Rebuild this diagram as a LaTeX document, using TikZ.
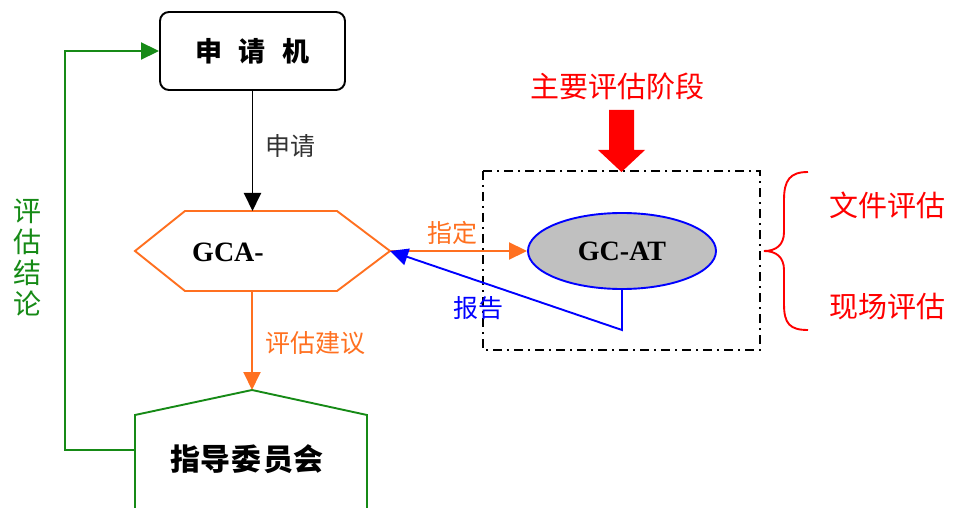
\documentclass[tikz,border=0pt]{standalone}
\usepackage{fontspec}
\setmainfont{Liberation Serif}
\newfontfamily\cjk{Noto Sans CJK SC}
\usetikzlibrary{arrows.meta,shapes.geometric}
\definecolor{myorange}{RGB}{255,112,32}
\definecolor{mygreen}{RGB}{22,138,22}
\definecolor{myred}{RGB}{255,0,0}
\definecolor{myblue}{RGB}{0,0,255}
\definecolor{mygray}{RGB}{192,192,192}
\begin{document}
\begin{tikzpicture}[x=1pt,y=-1pt,line width=1.9pt,
  tip/.style={-{Triangle[length=18pt,width=17pt]}},
  lbl/.style={inner sep=0pt,font=\cjk\fontsize{25}{28}\selectfont},
  big/.style={inner sep=0pt,font=\cjk\fontsize{29}{31}\selectfont},
  ttl/.style={inner sep=0pt,font=\bfseries\fontsize{28}{30}\selectfont}]
\useasboundingbox (0,0) rectangle (954,508);

% applicant box
\node[draw=black, rounded corners=9pt, minimum width=185pt, minimum height=78pt, inner sep=0pt,
      font=\cjk\bfseries\fontsize{27}{30}\selectfont] (app) at (252.5,51) {申\hspace{17pt}请\hspace{17pt}机};

% hexagon GCA-
\coordinate (hW) at (135,251);
\coordinate (hNW) at (185,211);
\coordinate (hNE) at (337,211);
\coordinate (hE) at (390,251);
\coordinate (hSE) at (337,291);
\coordinate (hSW) at (185,291);
\coordinate (hN) at (252.5,211);
\coordinate (hS) at (252,291);
\draw[myorange] (hW) -- (hNW) -- (hNE) -- (hE) -- (hSE) -- (hSW) -- cycle;
\node[ttl] (gcatxt) at (228,252) {GCA-};

% pentagon 指导委员会
\coordinate (pN) at (252,390);
\coordinate (pL) at (135,415);
\coordinate (pR) at (367,415);
\coordinate (pBL) at (135,508);
\coordinate (pBR) at (367,508);
\coordinate (pW) at (135,450);
\draw[mygreen] (pBL) -- (pL) -- (pN) -- (pR) -- (pBR);
\node[inner sep=0pt, font=\cjk\bfseries\fontsize{30}{32}\selectfont] (sc) at (247,459) {指\hspace{1pt}导\hspace{1pt}委\hspace{1pt}员\hspace{1pt}会};

% GC-AT ellipse
\node[ellipse, draw=myblue, fill=mygray, minimum width=188pt, minimum height=76pt, inner sep=0pt, ttl] (gcat) at (622,251) {GC-AT};

% dash-dot frame
\draw[black, line width=1.7pt, dash pattern=on 9pt off 5pt on 2pt off 5pt] (483,171) rectangle (760,350);

% red block arrow
\fill[myred] (609,110) -- (634,110) -- (634,150) -- (645,150) -- (621.5,172) -- (598,150) -- (609,150) -- cycle;
\node[big, text=myred] (main) at (617,86) {主要评估阶段};

% brace
\draw[myred] (808,172) .. controls (790,172) and (784,180) .. (784,200) -- (784,232)
  .. controls (784,245) and (776,251) .. (764,251)
  .. controls (776,251) and (784,257) .. (784,270) -- (784,304)
  .. controls (784,324) and (790,330) .. (808,330);
\node[big, text=myred] (doc) at (887,205) {文件评估};
\node[big, text=myred] (site) at (887,307) {现场评估};

% connectors
\draw[black, tip] (app.south) -- (hN);
\node[lbl, text=black!80] (lapply) at (290,146) {申请};

\draw[myorange, tip] (hS) -- (pN);
\node[lbl, text=myorange] (ladv) at (315,343) {评估建议};

\draw[myorange, tip] (hE) -- (gcat.west);
\node[lbl, text=myorange] (lassign) at (452,233) {指定};

\coordinate (bc) at (622,330);
\draw[myblue, tip] (gcat.south) -- (bc) -- (hE);
\node[lbl, text=myblue] (lrep) at (478,308) {报告};

\coordinate (g1) at (65,450);
\coordinate (g2) at (65,51);
\draw[mygreen, tip] (pW) -- (g1) -- (g2) -- (app.west);
\node[inner sep=0pt, align=center, text=mygreen, font=\cjk\fontsize{28}{31}\selectfont] (lconc) at (27,258) {评\\估\\结\\论};
\end{tikzpicture}
\end{document}
